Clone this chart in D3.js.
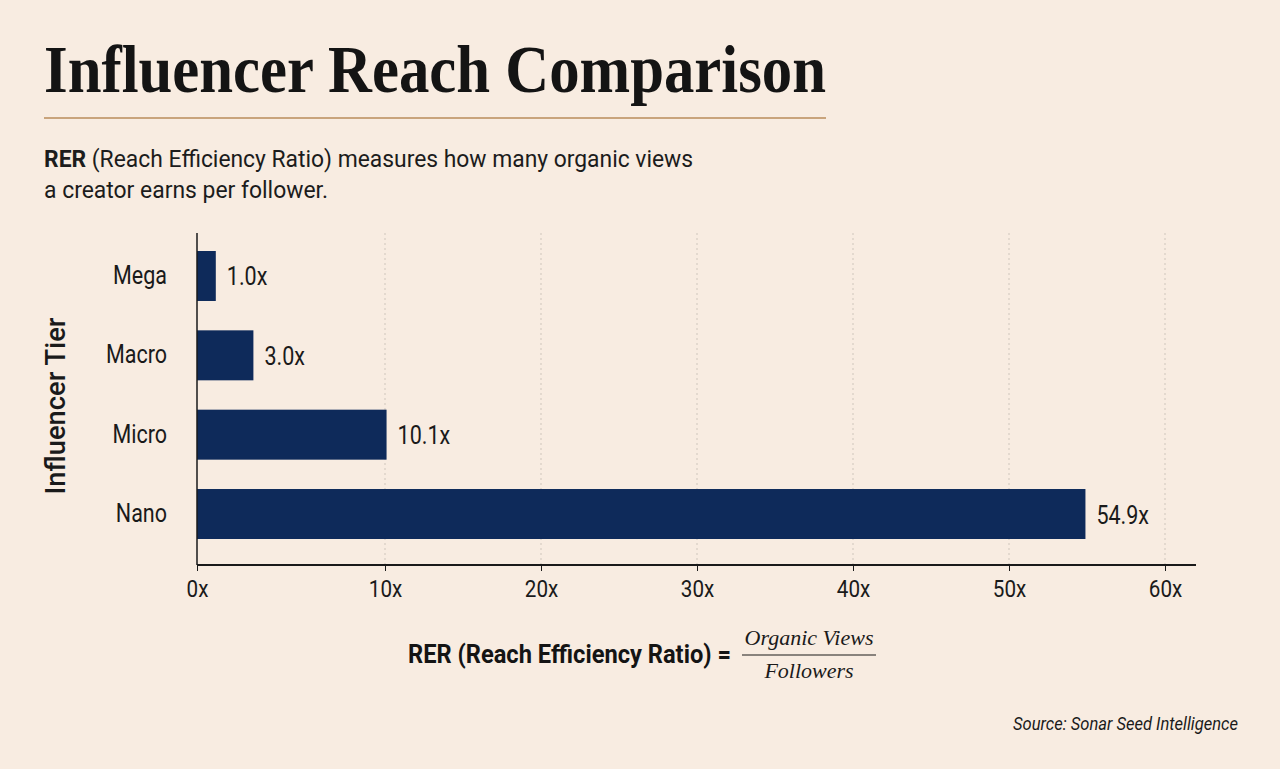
<!DOCTYPE html>
<html>
<head>
<meta charset="utf-8">
<script src="https://cdn.jsdelivr.net/npm/d3@7"></script>
<style>
  body { margin: 0; background: #f8ece1; }
  svg { display: block; }
  .cond { font-family: Roboto, "Liberation Sans", sans-serif; }
</style>
</head>
<body>
<div class="canvas"></div>
<script>
// data
const tiers = ['Mega', 'Macro', 'Micro', 'Nano']
const rer = [1.0, 3.0, 10.1, 54.9]
const tickValues = [0, 10, 20, 30, 40, 50, 60]

const width = 1280
const height = 769

const svg = d3.select('.canvas')
  .append('svg')
  .attr('width', width)
  .attr('height', height)

svg.append('rect')
  .attr('width', width)
  .attr('height', height)
  .attr('fill', '#f8ece1')

// squeeze text horizontally to get a condensed look
const condense = (sel, f) => {
  sel.each(function () {
    const len = this.getComputedTextLength()
    d3.select(this)
      .attr('textLength', len * f)
      .attr('lengthAdjust', 'spacingAndGlyphs')
  })
}

// title
svg.append('text')
  .attr('x', 44)
  .attr('y', 92)
  .attr('font-family', '"Liberation Serif", "DejaVu Serif", serif')
  .attr('font-weight', 700)
  .attr('font-size', 68)
  .attr('fill', '#141414')
  .attr('textLength', 782)
  .attr('lengthAdjust', 'spacingAndGlyphs')
  .text('Influencer Reach Comparison')

svg.append('line')
  .attr('x1', 44).attr('x2', 826)
  .attr('y1', 118).attr('y2', 118)
  .attr('stroke', '#c9a47c')
  .attr('stroke-width', 2)

// subtitle
const sub1 = svg.append('text')
  .attr('class', 'cond')
  .attr('x', 44)
  .attr('y', 167)
  .attr('font-size', 24)
  .attr('fill', '#1c1c1c')
  .attr('textLength', 649)
  .attr('lengthAdjust', 'spacingAndGlyphs')
sub1.append('tspan').attr('font-weight', 700).text('RER')
sub1.append('tspan').text(' (Reach Efficiency Ratio) measures how many organic views')

svg.append('text')
  .attr('class', 'cond')
  .attr('x', 44)
  .attr('y', 198)
  .attr('font-size', 24)
  .attr('fill', '#1c1c1c')
  .attr('textLength', 284)
  .attr('lengthAdjust', 'spacingAndGlyphs')
  .text('a creator earns per follower.')

// chart area
const margin = { top: 233, left: 197 }
const graphHeight = 565 - margin.top
const axisEnd = 1196 - margin.left

const graph = svg.append('g')
  .attr('transform', `translate(${margin.left}, ${margin.top})`)

// scales (axis spacing in the reference is not uniform: first step wider)
const x = d3.scaleLinear()
  .domain([0, 10, 60])
  .range([0, 188, 968])

const y = d3.scaleBand()
  .domain(tiers)
  .range([18, 306])
  .paddingInner(0.37)
  .paddingOuter(0)

// gridlines
graph.append('g')
  .selectAll('line')
  .data(tickValues.slice(1))
  .enter()
  .append('line')
  .attr('x1', d => x(d)).attr('x2', d => x(d))
  .attr('y1', 0).attr('y2', graphHeight)
  .attr('stroke', '#cfc6bc')
  .attr('stroke-width', 1)
  .attr('stroke-dasharray', '2,3')

// bars
graph.selectAll('rect.bar')
  .data(rer)
  .enter()
  .append('rect')
  .attr('class', 'bar')
  .attr('x', 0)
  .attr('y', (d, i) => y(tiers[i]))
  .attr('width', d => x(d))
  .attr('height', y.bandwidth())
  .attr('fill', '#0e2a5a')

// value labels
graph.selectAll('text.val')
  .data(rer)
  .enter()
  .append('text')
  .attr('class', 'val cond')
  .attr('x', d => x(d) + 11)
  .attr('y', (d, i) => y(tiers[i]) + y.bandwidth() / 2)
  .attr('dy', '0.38em')
  .attr('font-size', 25)
  .attr('fill', '#1a1a1a')
  .text(d => `${d.toFixed(1)}x`)
  .call(condense, 0.86)

// x axis
const xAxisGroup = graph.append('g')
  .attr('transform', `translate(0, ${graphHeight})`)

const xAxis = d3.axisBottom(x)
  .tickValues(tickValues)
  .tickSize(6)
  .tickPadding(9)
  .tickFormat(d => `${d}x`)

xAxisGroup.call(xAxis)
xAxisGroup.select('.domain').remove()
xAxisGroup.append('line')
  .attr('x1', 0).attr('x2', axisEnd)
  .attr('stroke', '#1a1a1a')
  .attr('stroke-width', 2)
xAxisGroup.selectAll('.tick line').attr('stroke', '#1a1a1a')
xAxisGroup.selectAll('text')
  .attr('class', 'cond')
  .attr('font-size', 24)
  .attr('fill', '#1a1a1a')
  .call(condense, 0.86)

// y axis
const yAxisGroup = graph.append('g')
const yAxis = d3.axisLeft(y).tickSize(0).tickPadding(30)
yAxisGroup.call(yAxis)
yAxisGroup.select('.domain').remove()
yAxisGroup.append('line')
  .attr('y1', 0).attr('y2', graphHeight)
  .attr('stroke', '#1a1a1a')
  .attr('stroke-width', 1.5)
yAxisGroup.selectAll('text')
  .attr('class', 'cond')
  .attr('font-size', 25)
  .attr('fill', '#1a1a1a')
  .call(condense, 0.86)

// y axis title
svg.append('text')
  .attr('class', 'cond')
  .attr('transform', 'translate(65, 406) rotate(-90)')
  .attr('text-anchor', 'middle')
  .attr('font-size', 27)
  .attr('font-weight', 500)
  .attr('fill', '#1a1a1a')
  .attr('textLength', 177)
  .attr('lengthAdjust', 'spacingAndGlyphs')
  .text('Influencer Tier')

// formula
svg.append('text')
  .attr('class', 'cond')
  .attr('x', 408)
  .attr('y', 663)
  .attr('font-size', 26)
  .attr('font-weight', 700)
  .attr('fill', '#141414')
  .attr('textLength', 323)
  .attr('lengthAdjust', 'spacingAndGlyphs')
  .text('RER (Reach Efficiency Ratio) =')

const frac = svg.append('g')
  .attr('font-family', '"Liberation Serif", "DejaVu Serif", serif')
  .attr('font-style', 'italic')
  .attr('font-size', 22)
  .attr('fill', '#1a1a1a')
  .attr('text-anchor', 'middle')
frac.append('text').attr('x', 809).attr('y', 645).text('Organic Views')
frac.append('line')
  .attr('x1', 742).attr('x2', 876)
  .attr('y1', 655).attr('y2', 655)
  .attr('stroke', '#1a1a1a')
  .attr('stroke-width', 1.2)
frac.append('text').attr('x', 809).attr('y', 678).text('Followers')

// source
svg.append('text')
  .attr('class', 'cond')
  .attr('x', 1238)
  .attr('y', 730)
  .attr('text-anchor', 'end')
  .attr('font-size', 19)
  .attr('font-style', 'italic')
  .attr('fill', '#1a1a1a')
  .attr('textLength', 225)
  .attr('lengthAdjust', 'spacingAndGlyphs')
  .text('Source: Sonar Seed Intelligence')
</script>
</body>
</html>
